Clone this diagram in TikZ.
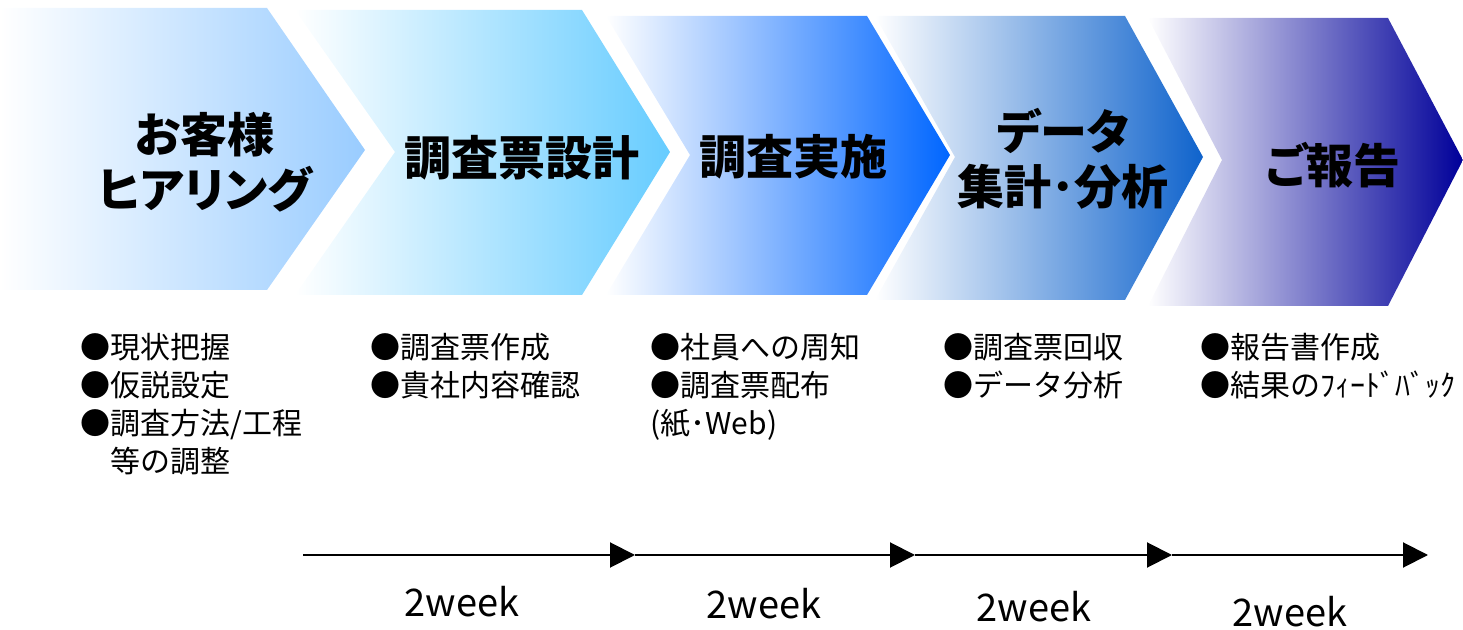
\documentclass[tikz,border=0pt]{standalone}
\usepackage{fontspec}
\setmainfont{Noto Sans CJK JP}
\usetikzlibrary{arrows.meta}

\definecolor{stepA}{HTML}{99CCFF}
\definecolor{stepB}{HTML}{66CCFF}
\definecolor{stepC}{HTML}{0066FF}
\definecolor{stepD}{HTML}{0F63CC}
\definecolor{stepE}{HTML}{000099}
\definecolor{midA}{HTML}{DCEBFF}
\definecolor{midB}{HTML}{D2ECFF}
\definecolor{midC}{HTML}{C4CCF8}
\definecolor{midD}{HTML}{C2CAE6}
\definecolor{midE}{HTML}{CFCFE0}

\tikzset{
  title/.style={font=\bfseries\fontsize{23.5}{27.5}\selectfont\addfontfeature{RawFeature=+palt}, align=center},
  items/.style={font=\fontsize{15}{19}\selectfont, align=left, anchor=north west, inner sep=0pt},
  week/.style={font=\fontsize{19}{22}\selectfont},
  timeline/.style={line width=1pt, -{Triangle[length=12.5pt,width=12.5pt]}}
}

\begin{document}
\begin{tikzpicture}[x=0.5pt,y=-0.5pt]
\useasboundingbox (0,0) rectangle (1463,630);

% steps
\shade[left color=white,middle color=midA,right color=stepA] (0,8) -- (267,8) -- (365,150) -- (267,290) -- (0,290) -- cycle;
\shade[left color=white,middle color=midB,right color=stepB] (295,10) -- (582,10) -- (670,152) -- (582,295) -- (295,295) -- (395,152) -- cycle;
\shade[left color=white,middle color=midC,right color=stepC] (606,16) -- (867,16) -- (950,155) -- (867,295) -- (606,295) -- (690,155) -- cycle;
\shade[left color=white,middle color=midD,right color=stepD] (875,16) -- (1125,16) -- (1203,157) -- (1125,300) -- (875,300) -- (955,157) -- cycle;
\shade[left color=white,middle color=midE,right color=stepE] (1148,18) -- (1388,18) -- (1463,160) -- (1388,306) -- (1148,306) -- (1222,160) -- cycle;

\node[title] (t1) at (205,162) {お客様\\ヒアリング};
\node[title] (t2) at (522,158) {調査票設計};
\node[title] (t3) at (793,157) {調査実施};
\node[title] (t4) at (1063,159) {データ\\集計･分析};
\node[title] (t5) at (1333,165) {ご報告};

% tasks
\node[items] (l1) at (80,333) {●現状把握\\●仮説設定\\●調査方法/工程\\　等の調整};
\node[items] (l2) at (370,333) {●調査票作成\\●貴社内容確認};
\node[items] (l3) at (650,333) {●社員への周知\\●調査票配布\\(紙･Web)};
\node[items] (l4) at (943,333) {●調査票回収\\●データ分析};
\node[items] (l5) at (1200,333) {●報告書作成\\●結果のﾌｨｰﾄﾞﾊﾞｯｸ};

% schedule
\coordinate (a0) at (303,555);
\coordinate (a1) at (635,555);
\coordinate (a2) at (915,555);
\coordinate (a3) at (1172,555);
\coordinate (a4) at (1428,555);
\foreach \s/\e in {a0/a1,a1/a2,a2/a3,a3/a4}
  \draw[timeline] (\s) -- (\e);

\node[week] (w1) at (462,602) {2week};
\node[week] (w2) at (764,604) {2week};
\node[week] (w3) at (1034,607) {2week};
\node[week] (w4) at (1290,612) {2week};
\end{tikzpicture}
\end{document}
